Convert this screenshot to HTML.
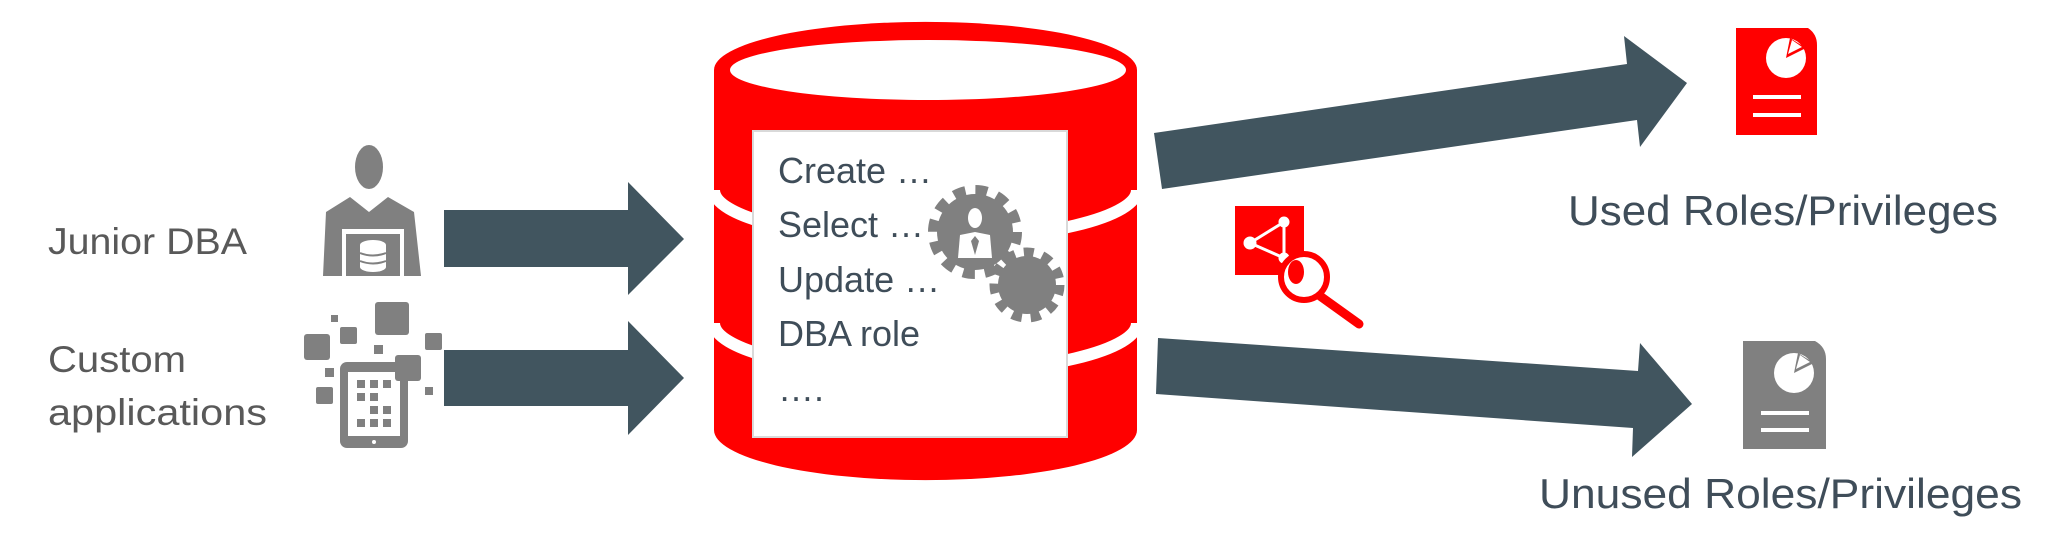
<!DOCTYPE html>
<html><head><meta charset="utf-8"><style>
html,body{margin:0;padding:0;background:#fff;}
svg{display:block}
text{font-family:"Liberation Sans",sans-serif;}
</style></head><body>
<svg width="2059" height="535" viewBox="0 0 2059 535" xmlns="http://www.w3.org/2000/svg">
<!-- left labels -->
<g fill="#595959" font-size="37">
<text x="48" y="254" textLength="199" lengthAdjust="spacingAndGlyphs">Junior DBA</text>
<text x="48" y="372" textLength="138" lengthAdjust="spacingAndGlyphs">Custom</text>
<text x="48" y="425" textLength="219" lengthAdjust="spacingAndGlyphs">applications</text>
</g>
<!-- person icon -->
<g fill="#808080">
<ellipse cx="369" cy="167" rx="14" ry="22"/>
<path d="M323,276 L326,212 L350,197 L369,212 L388,197 L414,212 L421,276 Z"/>
<rect x="342" y="229" width="62" height="47" fill="#fff"/>
<rect x="346" y="234" width="54" height="42"/>
<g fill="#fff"><ellipse cx="373" cy="245" rx="13" ry="5"/><rect x="360" y="245" width="26" height="22"/><ellipse cx="373" cy="267" rx="13" ry="5"/></g>
<g stroke="#808080" stroke-width="2" fill="none"><path d="M360,253 Q373,258 386,253"/><path d="M360,261 Q373,266 386,261"/></g>
</g>
<!-- tablet icon -->
<g fill="#808080">
<rect x="375" y="302" width="34" height="33" rx="3"/>
<rect x="331" y="315" width="7" height="7"/>
<rect x="340" y="327" width="17" height="17" rx="2"/>
<rect x="304" y="334" width="26" height="26" rx="3"/>
<rect x="425" y="333" width="17" height="17" rx="2"/>
<rect x="374" y="345" width="9" height="9"/>
<rect x="325" y="368" width="9" height="9"/>
<rect x="316" y="387" width="17" height="17" rx="2"/>
<rect x="425" y="387" width="8" height="8"/>
<rect x="340" y="362" width="68" height="86" rx="7"/>
<rect x="348" y="372" width="52" height="64" fill="#fff"/>
<g><rect x="357" y="380" width="8" height="8"/><rect x="370" y="380" width="8" height="8"/><rect x="383" y="380" width="8" height="8"/>
<rect x="357" y="393" width="8" height="8"/><rect x="370" y="393" width="8" height="8"/>
<rect x="370" y="406" width="8" height="8"/><rect x="383" y="406" width="8" height="8"/>
<rect x="357" y="419" width="8" height="8"/><rect x="370" y="419" width="8" height="8"/><rect x="383" y="419" width="8" height="8"/></g>
<rect x="395" y="355" width="26" height="26" rx="3"/>
<circle cx="374" cy="442" r="2" fill="#fff"/>
</g>
<!-- left arrows -->
<g fill="#41555F">
<polygon points="444,210 628,210 628,182 684,239 628,295 628,267 444,267"/>
<polygon points="444,350 628,350 628,321 684,378 628,435 628,406 444,406"/>
</g>
<!-- cylinder -->
<path d="M714,70 L714,430 A211,50 0 0 0 1137,430 L1137,70 A211,48 0 0 0 714,70 Z" fill="#ff0000"/>
<ellipse cx="928" cy="70" rx="198" ry="30" fill="#fff"/>
<g stroke="#fff" stroke-width="12" fill="none">
<path d="M714,190 A211,50 0 0 0 1137,190"/>
<path d="M714,323 A211,50 0 0 0 1137,323"/>
</g>
<rect x="753" y="131" width="314" height="306" fill="#fff" stroke="#d9d9d9" stroke-width="2"/>
<g fill="#3F4D59" font-size="36">
<text x="778" y="183">Create …</text>
<text x="778" y="237">Select …</text>
<text x="778" y="292">Update …</text>
<text x="778" y="346">DBA role</text>
<text x="778" y="401">….</text>
</g>
<!-- gears -->
<g fill="#808080">
<circle cx="975" cy="232" r="38"/>
<circle cx="975" cy="232" r="42" fill="none" stroke="#808080" stroke-width="10" stroke-dasharray="12 10"/>
<circle cx="1027" cy="285" r="29"/>
<circle cx="1027" cy="285" r="33" fill="none" stroke="#808080" stroke-width="9" stroke-dasharray="10 9"/>
<g fill="#fff"><ellipse cx="975" cy="218" rx="7" ry="10"/><path d="M958,258 L960,235 L975,232 L990,235 L992,258 Z"/></g>
<path d="M975,236 L971,241 L975,255 L979,241 Z" fill="#808080"/>
<circle cx="1027" cy="285" r="9" fill="#808080"/>
</g>
<!-- right arrows -->
<g fill="#41555F">
<polygon points="1154,133 1627,64 1624,36 1687,83 1640,147 1637,120 1162,189"/>
<polygon points="1158,338 1638,371 1640,343 1692,404 1632,457 1633,428 1156,394"/>
</g>
<!-- analytics icon -->
<rect x="1235" y="206" width="69" height="69" fill="#ff0000"/>
<g stroke="#fff" stroke-width="3" fill="#fff"><line x1="1284" y1="222" x2="1250" y2="243"/><line x1="1250" y1="243" x2="1284" y2="258"/><line x1="1284" y1="222" x2="1284" y2="258"/>
<circle cx="1284" cy="222" r="4"/><circle cx="1250" cy="243" r="5"/><circle cx="1284" cy="258" r="4"/></g>
<circle cx="1304" cy="277" r="23" fill="#fff" stroke="#ff0000" stroke-width="6"/>
<ellipse cx="1296" cy="272" rx="8" ry="12" fill="#ff0000"/>
<line x1="1320" y1="296" x2="1359" y2="324" stroke="#ff0000" stroke-width="9" stroke-linecap="round"/>
<!-- doc icons -->
<g>
<path d="M1736,28 L1808,28 Q1817,34 1817,45 L1817,135 L1736,135 Z" fill="#ff0000"/>
<circle cx="1786" cy="58" r="20" fill="#fff"/>
<path d="M1786,58 L1790,38 L1806,48 Z" fill="#ff0000"/>
<path d="M1788,54 L1792,40 L1802,47 Z" fill="#fff"/>
<rect x="1753" y="95" width="48" height="4" fill="#fff"/><rect x="1753" y="113" width="48" height="4" fill="#fff"/>
</g>
<g>
<path d="M1743,341 L1815,341 Q1826,347 1826,359 L1826,449 L1743,449 Z" fill="#808080"/>
<circle cx="1794" cy="373" r="20" fill="#fff"/>
<path d="M1794,373 L1798,353 L1814,363 Z" fill="#808080"/>
<path d="M1796,369 L1800,355 L1810,362 Z" fill="#fff"/>
<rect x="1761" y="411" width="48" height="4" fill="#fff"/><rect x="1761" y="428" width="48" height="4" fill="#fff"/>
</g>
<g fill="#3F4D59" font-size="42">
<text x="1568" y="225" textLength="430" lengthAdjust="spacingAndGlyphs">Used Roles/Privileges</text>
<text x="1539" y="508" textLength="483" lengthAdjust="spacingAndGlyphs">Unused Roles/Privileges</text>
</g>
</svg>
</body></html>
